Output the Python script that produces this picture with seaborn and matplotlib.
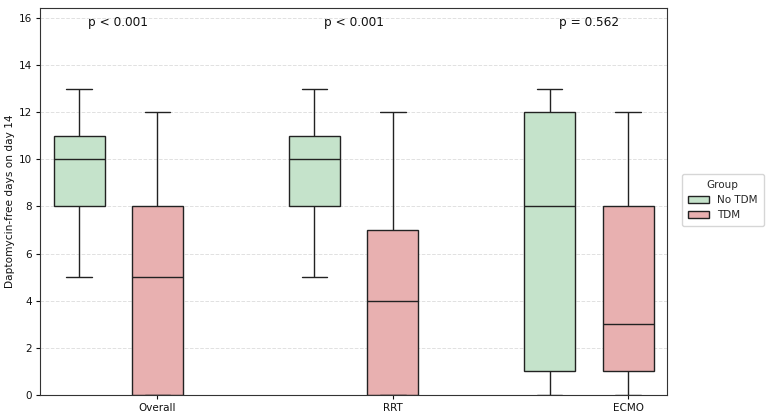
import pandas as pd
import seaborn as sns
import matplotlib.pyplot as plt

# five-number summaries (min, q1, median, q3, max)
subgroups = ['Overall', 'RRT', 'ECMO']
groups = ['No TDM', 'TDM']
no_tdm = {
    'Overall': [5, 8, 10, 11, 13],
    'RRT': [5, 8, 10, 11, 13],
    'ECMO': [0, 1, 8, 12, 13],
}
tdm = {
    'Overall': [0, 0, 5, 8, 12],
    'RRT': [0, 0, 4, 7, 12],
    'ECMO': [0, 1, 3, 8, 12],
}
p_values = ['p < 0.001', 'p < 0.001', 'p = 0.562']
palette = {'No TDM': '#c5e3cb', 'TDM': '#e8b0b0'}

rows = []
for s in subgroups:
    for g, src in zip(groups, [no_tdm, tdm]):
        for v in src[s]:
            rows.append({'subgroup': s, 'Group': g, 'days': v})
df = pd.DataFrame(rows)

sns.set_style('white')
plt.rcParams['font.family'] = ['DejaVu Sans']

fig, ax = plt.subplots(figsize=(7.67, 4.15), dpi=100)
fig.subplots_adjust(left=0.052, right=0.870, top=0.981, bottom=0.048)

sns.boxplot(
    data=df, x='subgroup', y='days', hue='Group',
    order=subgroups, hue_order=groups, palette=palette, saturation=1,
    width=0.667, gap=0.35, linecolor='#222222', linewidth=1,
    ax=ax,
)

ax.set_xlim(-0.333, 2.333)
ax.set_ylim(0, 16.42)
ax.set_yticks(range(0, 17, 2))
ax.set_xticks([i + 1 / 6 for i in range(len(subgroups))])
ax.set_xticklabels(subgroups)
ax.set_xlabel('')
ax.set_ylabel('Daptomycin-free days on day 14', fontsize=7.6, labelpad=3,
              color='#111111')
ax.tick_params(axis='both', labelsize=7.5, length=3, width=0.8, pad=2.5,
               colors='#111111')
ax.tick_params(axis='y', left=True)
ax.tick_params(axis='x', bottom=True)
ax.grid(visible=True, axis='y', linestyle='--', alpha=0.6, color='#cccccc', linewidth=0.7)
ax.set_axisbelow(True)
for sp in ax.spines.values():
    sp.set_color('#333333')
    sp.set_linewidth(0.8)

for i, p in enumerate(p_values):
    ax.text(i, 15.8, p, ha='center', va='center', fontsize=8.7, color='#111111')

ax.legend_.remove()
handles, labels = ax.get_legend_handles_labels()
fig.legend(handles, labels, title='Group', loc='center left',
           bbox_to_anchor=(0.882, 0.518), fontsize=7.5, title_fontsize=7.5,
           handlelength=2.0, handletextpad=0.8, borderpad=0.6)

fig.savefig('out.png', dpi=100)
